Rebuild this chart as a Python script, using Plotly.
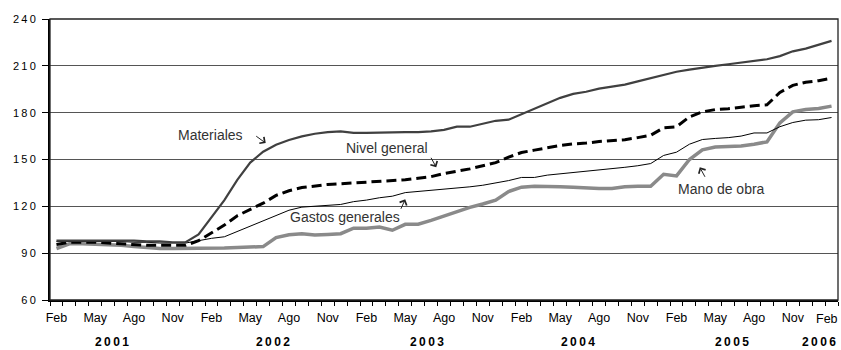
import plotly.graph_objects as go

# ---------------- data ----------------
month_names = ["Ene", "Feb", "Mar", "Abr", "May", "Jun", "Jul", "Ago", "Sep", "Oct", "Nov", "Dic"]
start_month = 2  # Feb 2001
years = ["2001", "2002", "2003", "2004", "2005", "2006"]
year_pos = [4.3, 16.8, 28.7, 40.4, 52.3, 60.5]
year_anchor = ["center", "center", "center", "center", "center", "right"]
y_ticks = [60, 90, 120, 150, 180, 210, 240]

materiales = [98, 98, 98, 98, 98, 98, 98, 97.5, 97.5, 97, 97,
              102, 113, 124, 137, 148, 155, 159.5, 162.5, 164.8, 166.5,
              167.5, 168, 167, 167, 167.3, 167.5, 167.5, 167.5, 168, 169,
              171, 171, 173, 174.8, 175.5, 179, 183, 186, 189.5, 192,
              193.4, 195.4, 196.5, 198, 200, 202, 204.3, 206.2, 207.6, 209,
              210, 211, 212, 213, 214.2, 216.2, 219.3, 221, 223.5, 226]

nivel = [95.5, 97, 97, 97, 96.5, 96, 95.5, 95, 95, 95, 95,
         98, 103, 108, 114, 118, 122, 127, 130, 132, 133,
         134, 134.5, 135, 135.5, 136, 136.5, 137, 138, 139, 141,
         142.5, 144, 146, 148, 151.5, 154.5, 156, 157.5, 159, 160,
         160.5, 161.5, 162, 162.7, 164, 165.5, 170.3, 171, 177.3, 180.5,
         182, 182.5, 183.5, 184.5, 185, 193, 197.5, 199.5, 200.5, 202]

gastos = [97.5, 97.5, 97.5, 97.5, 97.5, 97.5, 97, 97, 96.5, 96.5, 96.5,
          98, 99.5, 100.5, 104, 107.5, 110.5, 114, 117.5, 119.5, 120,
          120.3, 121.2, 123, 124, 125.5, 126.5, 128.8, 129.5, 130.2, 131,
          131.5, 132.5, 133.5, 135, 136.5, 138.5, 138.5, 140, 140.8, 141.5,
          142.5, 143, 144, 145, 146, 147.4, 152.6, 154.7, 159.8, 162.8,
          163.5, 164, 165, 167, 167, 171, 173.7, 175.2, 175.5, 176.9]

mano = [93, 96, 96, 95.8, 95.5, 95, 94.3, 93.5, 93, 93, 93,
        92.8, 93, 93.3, 93.7, 94, 94.2, 100, 101.8, 102.5, 101.6,
        102, 102.5, 106, 106, 106.7, 104.7, 108.5, 108.5, 111, 113.8,
        116.5, 119.3, 121.5, 124, 129.5, 132.3, 132.8, 132.8, 132.6, 132.2,
        131.6, 131.4, 131.5, 132.5, 132.8, 132.8, 140.5, 139.5, 150, 156.2,
        158, 158.3, 158.7, 159.8, 161.3, 173.5, 180.5, 182, 182.7, 184.2]

# series labels: text, anchor x (month index), y (value), arrow head x, y, tail offset
labels = [
    ("Materiales", 11.95, 165.6, 16.2, 160.5, -11, -8),
    ("Nivel general", 25.6, 157.3, 29.4, 145.0, -6, -11),
    ("Gastos generales", 22.3, 113.0, 27.0, 124.5, -5, 11),
    ("Mano de obra", 51.5, 131.0, 49.8, 145.0, 6, 11),
]

n = len(materiales)
x = list(range(n))
tick_idx = list(range(0, n, 3))
tick_text = [month_names[(start_month - 1 + i) % 12] for i in tick_idx]

FONT = "Arial, Liberation Sans, sans-serif"

fig = go.Figure()
fig.add_trace(go.Scatter(x=x, y=mano, mode="lines", name="Mano de obra",
                         line=dict(color="#8a8a8a", width=3.5)))
fig.add_trace(go.Scatter(x=x, y=gastos, mode="lines", name="Gastos generales",
                         line=dict(color="#000000", width=1)))
fig.add_trace(go.Scatter(x=x, y=nivel, mode="lines", name="Nivel general",
                         line=dict(color="#000000", width=3, dash="10px,5px")))
fig.add_trace(go.Scatter(x=x, y=materiales, mode="lines", name="Materiales",
                         line=dict(color="#404040", width=2.2)))

for txt, tx, ty, hx, hy, axo, ayo in labels:
    fig.add_annotation(x=tx, y=ty, text=txt, showarrow=False,
                       font=dict(family=FONT, size=14, color="#333333"))
    fig.add_annotation(x=hx, y=hy, text="", showarrow=True, ax=axo, ay=ayo,
                       arrowhead=4, arrowsize=1.5, arrowwidth=1, arrowcolor="#222222")

for yr, pos, anc in zip(years, year_pos, year_anchor):
    fig.add_annotation(x=pos, y=0, xref="x", yref="paper", yanchor="middle", xanchor=anc,
                       yshift=-42, text="<b>" + "\u2009".join(yr) + "</b>", showarrow=False,
                       font=dict(family=FONT, size=12, color="#000000"))

# last month label sits at the frame edge; draw it nudged inwards
fig.add_annotation(x=tick_idx[-1], y=0, xref="x", yref="paper", yanchor="middle",
                   xshift=-5, yshift=-19, text=tick_text[-1], showarrow=False,
                   font=dict(family=FONT, size=12.5, color="#000000"))

fig.update_layout(
    width=841, height=350,
    margin=dict(l=50, r=3, t=19, b=50, autoexpand=False),
    paper_bgcolor="white", plot_bgcolor="white",
    showlegend=False, hovermode=False,
    shapes=[dict(type="rect", xref="paper", yref="paper", x0=0, x1=1, y0=0, y1=1,
                 line=dict(color="#222222", width=1.3), layer="above")],
)
fig.update_xaxes(
    range=[-0.5, n - 0.5], tickmode="array", tickvals=tick_idx[:-1], ticktext=tick_text[:-1],
    ticks="", showgrid=False, zeroline=False, automargin=False, ticklabelstandoff=5,
    showline=True, linecolor="black", linewidth=2,
    tickfont=dict(family=FONT, size=12.5, color="#000000"),
    minor=dict(ticks="outside", ticklen=4, tickcolor="black", tickwidth=1,
               tickmode="linear", tick0=-0.5, dtick=1, showgrid=False),
)
fig.update_yaxes(
    range=[60, 240], tickmode="array", tickvals=y_ticks,
    ticktext=["\u2009".join(str(v)) for v in y_ticks],
    ticks="outside", ticklen=6, tickcolor="black", ticklabelstandoff=4,
    showgrid=True, gridcolor="#555555", gridwidth=1, zeroline=False, automargin=False,
    showline=True, linecolor="black", linewidth=2,
    tickfont=dict(family=FONT, size=11, color="#000000"),
)

fig.write_html(
    "out.html",
    config={"displayModeBar": False, "staticPlot": True},
    post_script="document.body.style.margin='0';document.body.style.overflow='hidden';",
)
